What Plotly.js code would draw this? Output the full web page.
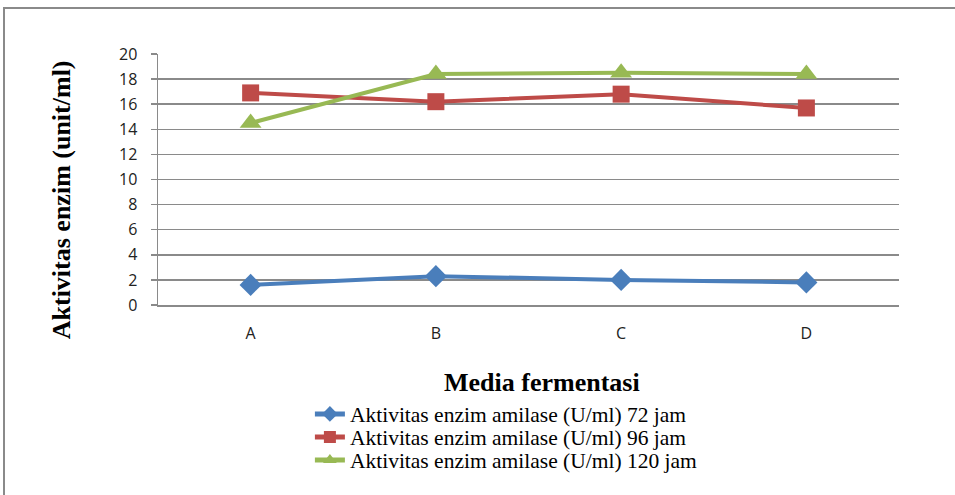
<!DOCTYPE html>
<html>
<head>
<meta charset="utf-8">
<script src="https://cdn.plot.ly/plotly-3.0.1.min.js"></script>
<style>
html,body{margin:0;padding:0;background:#fff;}
#wrap{position:relative;width:955px;height:495px;overflow:hidden;}
#chart{width:955px;height:495px;}
#frame{position:absolute;left:3px;top:7px;width:1000px;height:600px;border:2px solid #8a8a8a;box-sizing:border-box;pointer-events:none;}
</style>
</head>
<body>
<div id="wrap">
<div id="chart"></div>
<div id="frame"></div>
</div>
<script>
const categories = ['A', 'B', 'C', 'D'];
const seriesNames = [
  'Aktivitas enzim amilase (U/ml) 72 jam',
  'Aktivitas enzim amilase (U/ml) 96 jam',
  'Aktivitas enzim amilase (U/ml) 120 jam'
];
const values72 = [1.6, 2.3, 2.0, 1.8];
const values96 = [16.9, 16.2, 16.8, 15.7];
const values120 = [14.5, 18.4, 18.5, 18.4];
const yTicks = [0, 2, 4, 6, 8, 10, 12, 14, 16, 18, 20];

const colors = ['#4A7EBB', '#BE4B48', '#98B954'];
const symbols = ['diamond', 'square', 'triangle-up'];
const sizes = [17, 17, 19];
const legendIds = ['legend', 'legend2', 'legend3'];
const legendRowsY = [-0.434, -0.526, -0.618];
const seriesValues = [values72, values96, values120];

const traces = seriesValues.map((v, i) => ({
  type: 'scatter',
  mode: 'lines+markers',
  x: categories,
  y: v,
  name: seriesNames[i],
  legend: legendIds[i],
  line: {color: colors[i], width: 4},
  marker: {color: colors[i], symbol: symbols[i], size: sizes[i]}
}));

const legendBase = (yy) => ({
  x: 0.205, y: yy, xanchor: 'left', yanchor: 'middle',
  font: {family: 'Liberation Serif, Times New Roman, serif', size: 21.5, color: '#000'},
  itemsizing: 'constant',
  bgcolor: 'rgba(0,0,0,0)', borderwidth: 0
});

const layout = {
  width: 955, height: 495,
  margin: {l: 158, r: 56, t: 54, b: 190, autoexpand: false},
  paper_bgcolor: '#fff', plot_bgcolor: '#fff',
  showlegend: true,
  legend: legendBase(legendRowsY[0]),
  legend2: legendBase(legendRowsY[1]),
  legend3: legendBase(legendRowsY[2]),
  xaxis: {
    type: 'category',
    range: [-0.5, 3.5],
    showgrid: false, zeroline: false,
    showline: true, linecolor: '#8a8a8a', linewidth: 1.5,
    ticks: '',
    ticklabelstandoff: 13,
    tickfont: {family: 'Open Sans, Liberation Sans, sans-serif', size: 16, color: '#222'},
    fixedrange: true
  },
  yaxis: {
    range: [0, 20],
    tickvals: yTicks,
    ticktext: yTicks.map(String),
    showgrid: true, gridcolor: '#8a8a8a', gridwidth: 1.5,
    zeroline: false,
    showline: true, linecolor: '#8a8a8a', linewidth: 1.5,
    ticks: 'outside', ticklen: 6, tickcolor: '#8a8a8a', tickwidth: 1.5,
    ticklabelstandoff: 10,
    tickfont: {family: 'Open Sans, Liberation Sans, sans-serif', size: 16, color: '#222'},
    fixedrange: true
  },
  annotations: [
    {
      text: '<b>Aktivitas enzim (unit/ml)</b>',
      xref: 'paper', yref: 'paper',
      x: -0.13, y: 0.42, xanchor: 'center', yanchor: 'middle',
      textangle: -90, showarrow: false,
      font: {family: 'Liberation Serif, Times New Roman, serif', size: 26, color: '#000'}
    },
    {
      text: '<b>Media fermentasi</b>',
      xref: 'paper', yref: 'paper',
      x: 0.518, y: -0.31, xanchor: 'center', yanchor: 'middle',
      showarrow: false,
      font: {family: 'Liberation Serif, Times New Roman, serif', size: 26, color: '#000'}
    }
  ]
};

Plotly.newPlot('chart', traces, layout, {displayModeBar: false, staticPlot: true});
</script>
</body>
</html>
